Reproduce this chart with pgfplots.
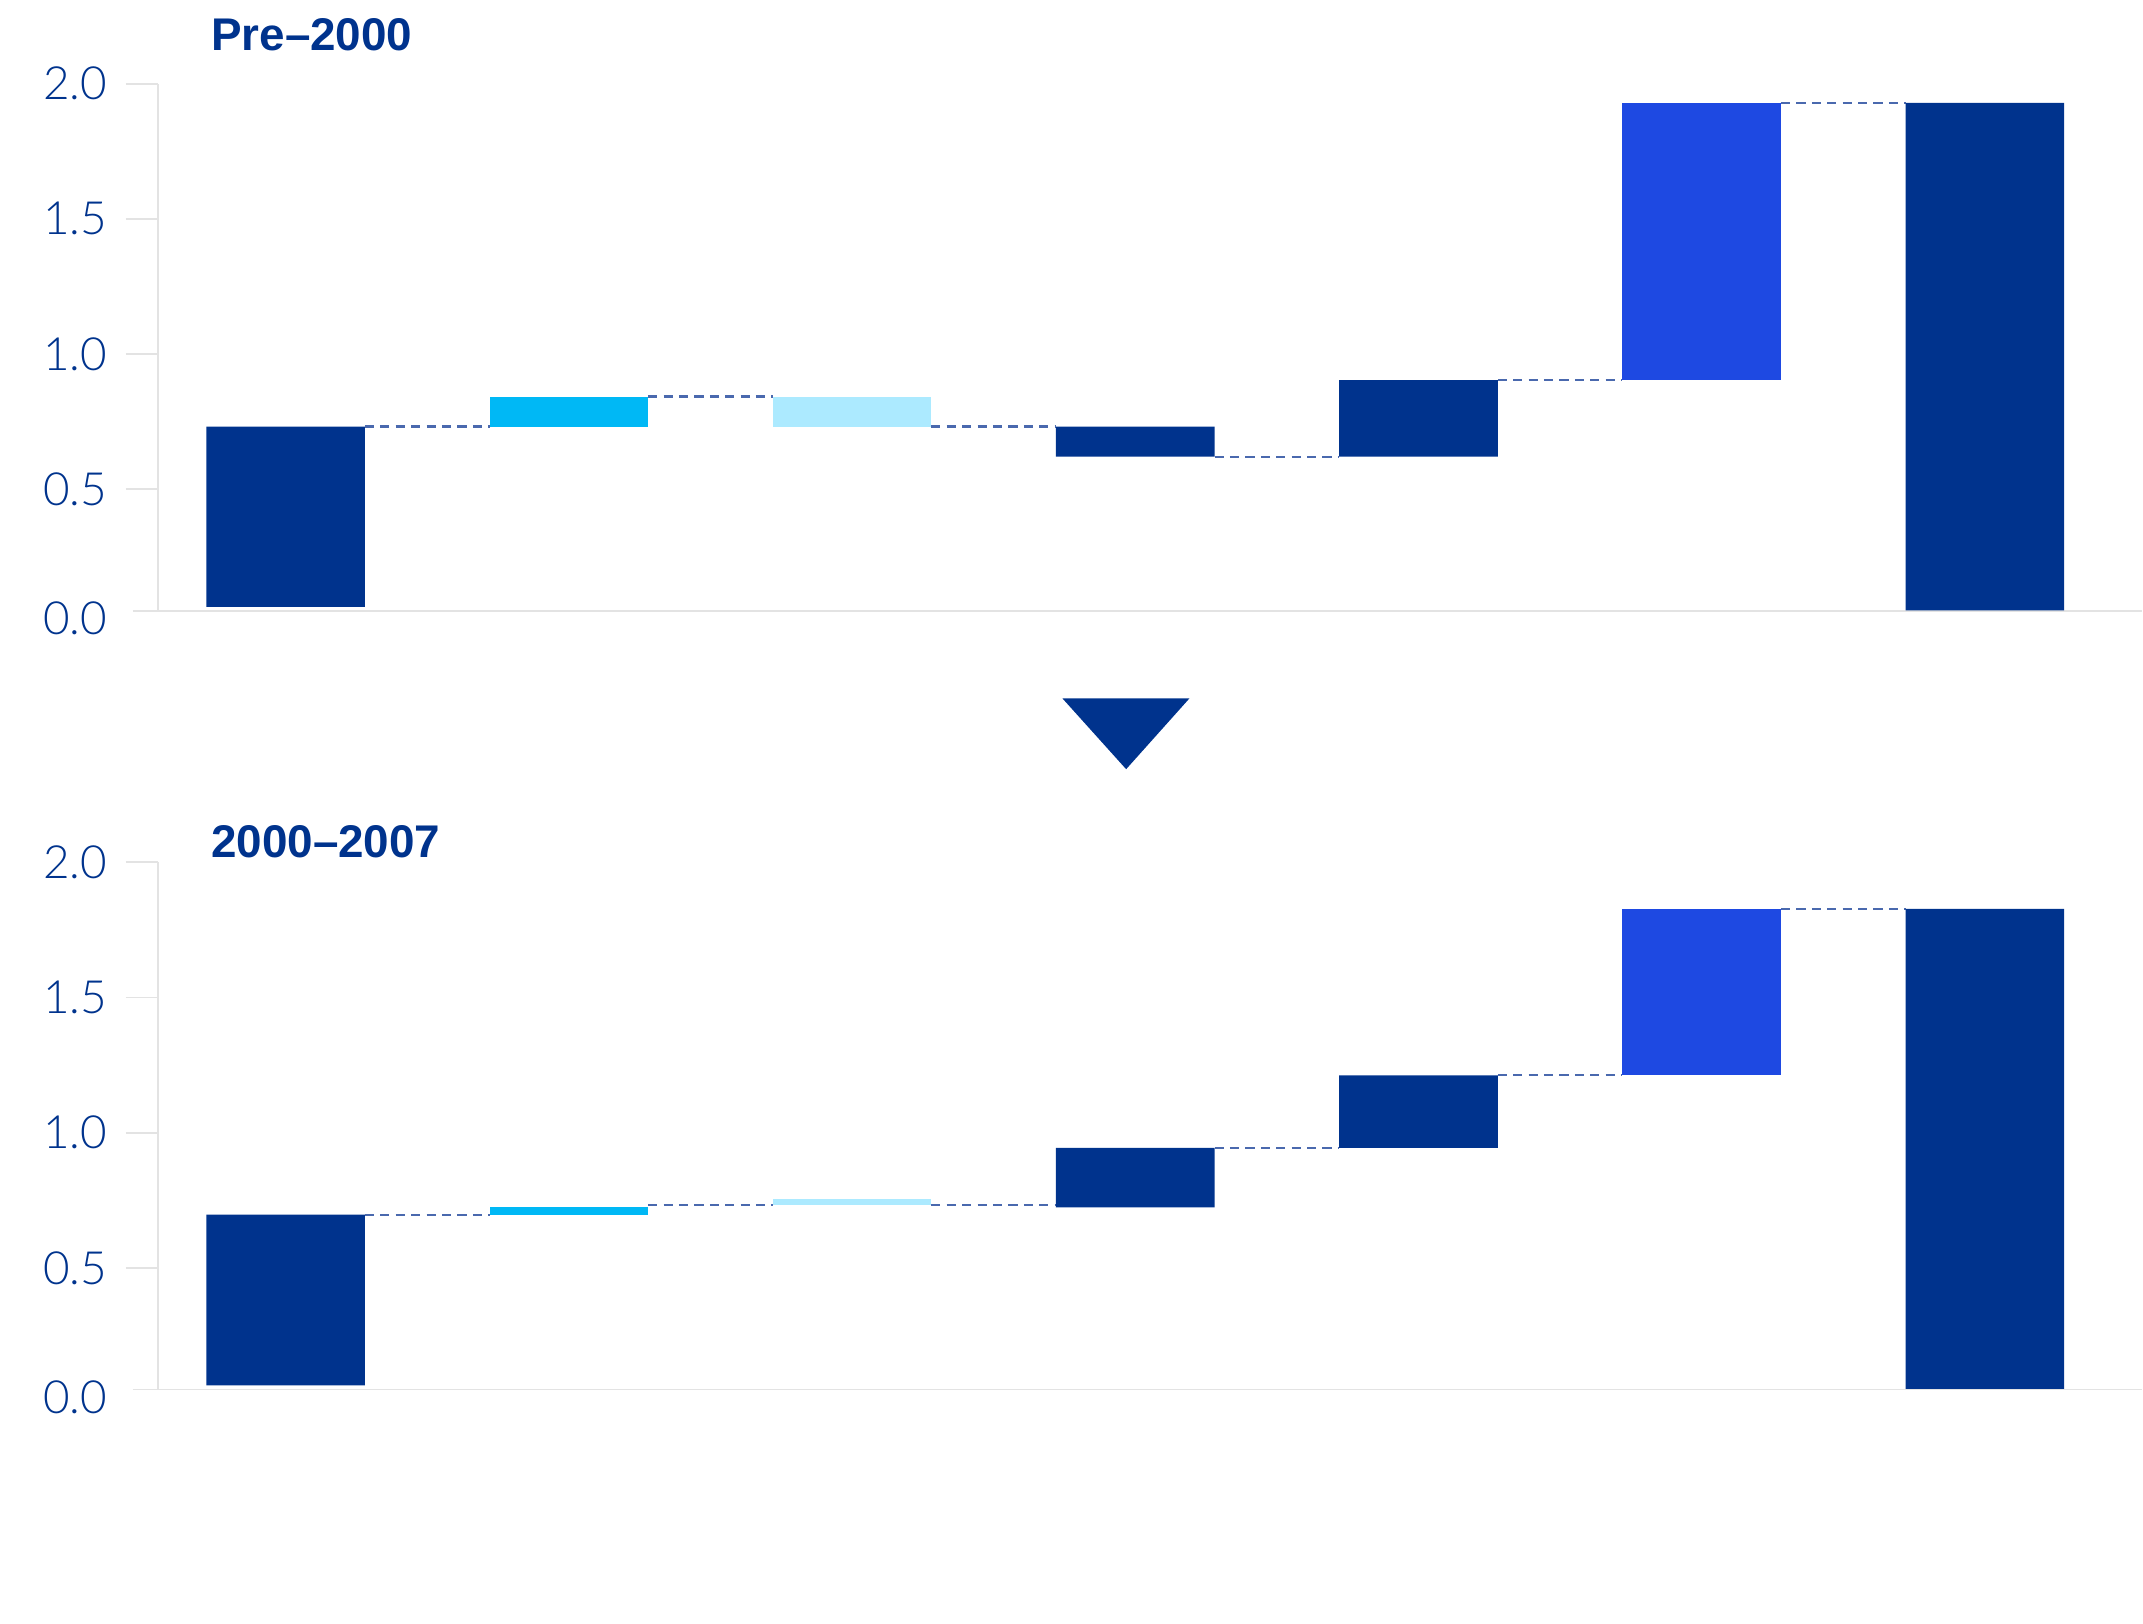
\documentclass[border=0pt]{standalone}
\usepackage{pgfplots}
\pgfplotsset{compat=1.18}
\usepackage{pgfplotstable}
\usepackage{fontspec}
\setmainfont{Liberation Sans}
\newfontfamily\lightfont{Lato Light}
\definecolor{navy}{HTML}{00338D}
\definecolor{cobalt}{HTML}{1E49E2}
\definecolor{cyanb}{HTML}{00B8F5}
\definecolor{lightc}{HTML}{ACEAFF}
\definecolor{axgray}{HTML}{E3E3E3}
\definecolor{dashc}{HTML}{4A69AE}

% waterfall: invisible base + visible segment per colour
\pgfplotstableread{
x base dark cyan light blue
0 0.065 0.667 0     0     0
1 0.732 0     0.111 0     0
2 0.732 0     0     0.111 0
3 0.621 0.111 0     0     0
4 0.621 0.283 0     0     0
5 0.904 0     0     0     1.025
6 0.052 1.877 0     0     0
}\toptab
\pgfplotstableread{
x base dark cyan light blue
0 0.065 0.632 0     0     0
1 0.697 0     0.028 0     0
2 0.733 0     0     0.020 0
3 0.724 0.220 0     0     0
4 0.944 0.268 0     0     0
5 1.212 0     0     0     0.616
6 0.052 1.776 0     0     0
}\bottab

\pgfplotsset{
  wf/.style={
    anchor=south west, scale only axis, width=476.3pt, height=126.6pt,
    xmin=-0.449, xmax=6.555, ymin=0.05, ymax=2,
    clip=false,
    ybar stacked, bar width=0.56,
    axis line style={draw=none},
    xtick=\empty,
    ytick={0.5,1,1.5,2}, yticklabels={0.5,1.0,1.5,2.0},
    extra y ticks={0.05}, extra y tick labels={0.0},
    extra y tick style={tick style={draw=none}, yticklabel style={yshift=-1.8pt}},
    ytick pos=left, tick align=outside, major tick length=7.9pt,
    tick style={draw=axgray, line width=0.45pt},
    yticklabel style={font=\lightfont\fontsize{11}{12}\selectfont, text=navy, inner sep=1pt, xshift=-3.2pt},
  },
  conn/.style={stack plots=false, dashc, line width=0.5pt, dash pattern=on 2.2pt off 1.5pt, sharp plot, forget plot, mark=none, unbounded coords=jump}
}

\begin{document}
\begin{tikzpicture}
\path (0,0) rectangle (514.3pt,389.8pt);

% ---------- top panel ----------
\begin{axis}[wf, at={(38.04pt,243.1pt)}]
\addplot[draw=none, fill=none] table[x=x,y=base] {\toptab};
\addplot[draw=none, fill=navy] table[x=x,y=dark] {\toptab};
\addplot[draw=none, fill=cyanb] table[x=x,y=cyan] {\toptab};
\addplot[draw=none, fill=lightc] table[x=x,y=light] {\toptab};
\addplot[draw=none, fill=cobalt] table[x=x,y=blue] {\toptab};
\addplot[conn] coordinates {(0.28,0.732) (0.72,0.732) (nan,nan)
  (1.28,0.843) (1.72,0.843) (nan,nan)
  (2.28,0.732) (2.72,0.732) (nan,nan)
  (3.28,0.621) (3.72,0.621) (nan,nan)
  (4.28,0.904) (4.72,0.904) (nan,nan)
  (5.28,1.929) (5.72,1.929)};
\draw[axgray, line width=0.45pt] ([xshift=-6.2pt]rel axis cs:0,0) -- (rel axis cs:1,0);
\draw[axgray, line width=0.45pt] (rel axis cs:0,0) -- (rel axis cs:0,1);
\end{axis}
\node[anchor=base west, inner sep=0pt, text=navy, font=\bfseries\fontsize{11}{13}\selectfont] at (50.5pt,377.6pt) {Pre–2000};

% ---------- arrow ----------
\fill[navy] (255.1pt,222.1pt) -- (285.6pt,222.1pt) -- (270.4pt,205.1pt) -- cycle;

% ---------- bottom panel ----------
\begin{axis}[wf, at={(38.04pt,56.16pt)}]
\addplot[draw=none, fill=none] table[x=x,y=base] {\bottab};
\addplot[draw=none, fill=navy] table[x=x,y=dark] {\bottab};
\addplot[draw=none, fill=cyanb] table[x=x,y=cyan] {\bottab};
\addplot[draw=none, fill=lightc] table[x=x,y=light] {\bottab};
\addplot[draw=none, fill=cobalt] table[x=x,y=blue] {\bottab};
\addplot[conn] coordinates {(0.28,0.697) (0.72,0.697) (nan,nan)
  (1.28,0.733) (1.72,0.733) (nan,nan)
  (2.28,0.733) (2.72,0.733) (nan,nan)
  (3.28,0.944) (3.72,0.944) (nan,nan)
  (4.28,1.212) (4.72,1.212) (nan,nan)
  (5.28,1.828) (5.72,1.828)};
\draw[axgray, line width=0.45pt] ([xshift=-6.2pt]rel axis cs:0,0) -- (rel axis cs:1,0);
\draw[axgray, line width=0.45pt] (rel axis cs:0,0) -- (rel axis cs:0,1);
\end{axis}
\node[anchor=base west, inner sep=0pt, text=navy, font=\bfseries\fontsize{11}{13}\selectfont] at (50.5pt,183.8pt) {2000–2007};
\end{tikzpicture}
\end{document}
